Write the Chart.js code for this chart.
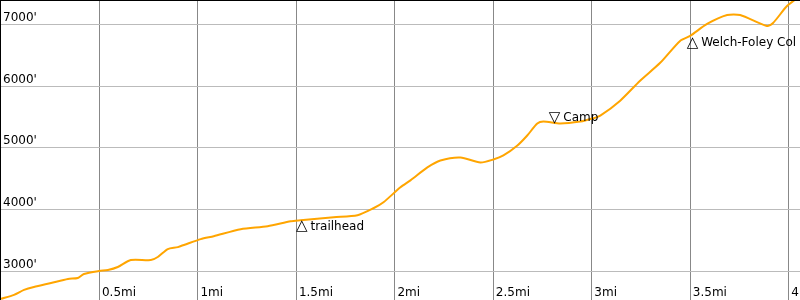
<!DOCTYPE html>
<html><head><meta charset="utf-8">
<script src="https://cdn.jsdelivr.net/npm/chart.js@4"></script>
<style>
html,body{margin:0;padding:0;overflow:hidden;background:#fff}
#wrap{width:800px;height:300px;border-top:1px solid #000;border-left:1px solid #000;position:relative}
canvas{display:block}
</style></head><body>
<div id="wrap"><canvas id="c" width="800" height="300"></canvas></div>
<script>
const distanceMi = [0,0.066,0.117,0.167,0.254,0.340,0.390,0.421,0.497,0.543,0.593,0.659,0.761,0.796,0.847,0.898,1.014,1.080,1.217,1.354,1.471,1.521,1.689,1.810,1.891,1.942,2.028,2.079,2.165,2.231,2.333,2.434,2.500,2.551,2.622,2.672,2.723,2.754,2.840,2.941,3.002,3.043,3.144,3.245,3.347,3.448,3.499,3.585,3.687,3.753,3.889,3.920,3.991,4.057];
const elevationFt = [2553,2618,2698,2747,2811,2876,2892,2956,3005,3021,3069,3182,3182,3231,3360,3392,3521,3569,3682,3731,3811,3827,3876,3908,4021,4118,4360,4473,4682,4795,4844,4763,4811,4876,5037,5199,5392,5424,5392,5424,5473,5521,5763,6086,6376,6731,6811,7005,7150,7150,6973,7021,7295,7457];
const xTicks = [0.5,1,1.5,2,2.5,3,3.5,4];
const xTickLabels = ['0.5mi','1mi','1.5mi','2mi','2.5mi','3mi','3.5mi','4mi'];
const yTicks = [3000,4000,5000,6000,7000];
const yTickLabels = ["3000'","4000'","5000'","6000'","7000'"];
const markerNames = ['trailhead','Camp','Welch-Foley Col'];
const markerSymbols = ['\u25B3','\u25BD','\u25B3'];
const markerDist = [1.5,2.784,3.484];
const markerElev = [3820,5410,6790];

const FONT = '12px "DejaVu Sans"';
const SYMFONT = '15px "DejaVu Sans"';
const labelPlugin = {
  id:'labels',
  beforeDatasetsDraw(chart){
    const {ctx, scales:{x,y}} = chart;
    ctx.save();
    ctx.font = FONT; ctx.fillStyle = '#000'; ctx.textAlign='left'; ctx.textBaseline='alphabetic';
    yTicks.forEach((v,i)=>{ ctx.fillText(yTickLabels[i], 2, y.getPixelForValue(v)-3.5); });
    xTicks.forEach((v,i)=>{ ctx.fillText(xTickLabels[i], x.getPixelForValue(v)+2.5, 295); });
    ctx.restore();
  },
  afterDatasetsDraw(chart){
    const {ctx, scales:{x,y}} = chart;
    ctx.save();
    ctx.fillStyle = '#000'; ctx.textAlign='left'; ctx.textBaseline='alphabetic';
    markerNames.forEach((n,i)=>{
      const px = x.getPixelForValue(markerDist[i]);
      const py = y.getPixelForValue(markerElev[i]);
      const up = markerSymbols[i] === '\u25B3';
      const base = up ? py + 9.5 : py - 0.5;
      ctx.font = SYMFONT;
      ctx.fillText(markerSymbols[i], px - 0.5, base);
      const w = ctx.measureText(markerSymbols[i]).width;
      ctx.font = FONT;
      ctx.fillText(n, px - 0.5 + w + 3, base - 0.5);
    });
    ctx.restore();
  }
};

new Chart(document.getElementById('c'), {
  type:'line',
  data:{ datasets:[{
    data: distanceMi.map((d,i)=>({x:d, y:elevationFt[i]})),
    borderColor:'#FFA500', borderWidth:2, pointRadius:0, tension:0.25, fill:false
  }]},
  options:{
    responsive:false, animation:false, devicePixelRatio:1,
    layout:{padding:0},
    plugins:{legend:{display:false}, tooltip:{enabled:false}},
    scales:{
      x:{type:'linear', min:0, max:4.062,
        afterBuildTicks(s){ s.ticks = xTicks.map(v=>({value:v})); },
        ticks:{display:false}, grid:{color:'#888', drawTicks:false, lineWidth:1}, border:{display:false}},
      y:{type:'linear', min:2519, max:7377,
        afterBuildTicks(s){ s.ticks = yTicks.map(v=>({value:v})); },
        ticks:{display:false}, grid:{color:'#bbb', drawTicks:false, lineWidth:1}, border:{display:false}}
    }
  },
  plugins:[labelPlugin]
});
</script>
</body></html>
